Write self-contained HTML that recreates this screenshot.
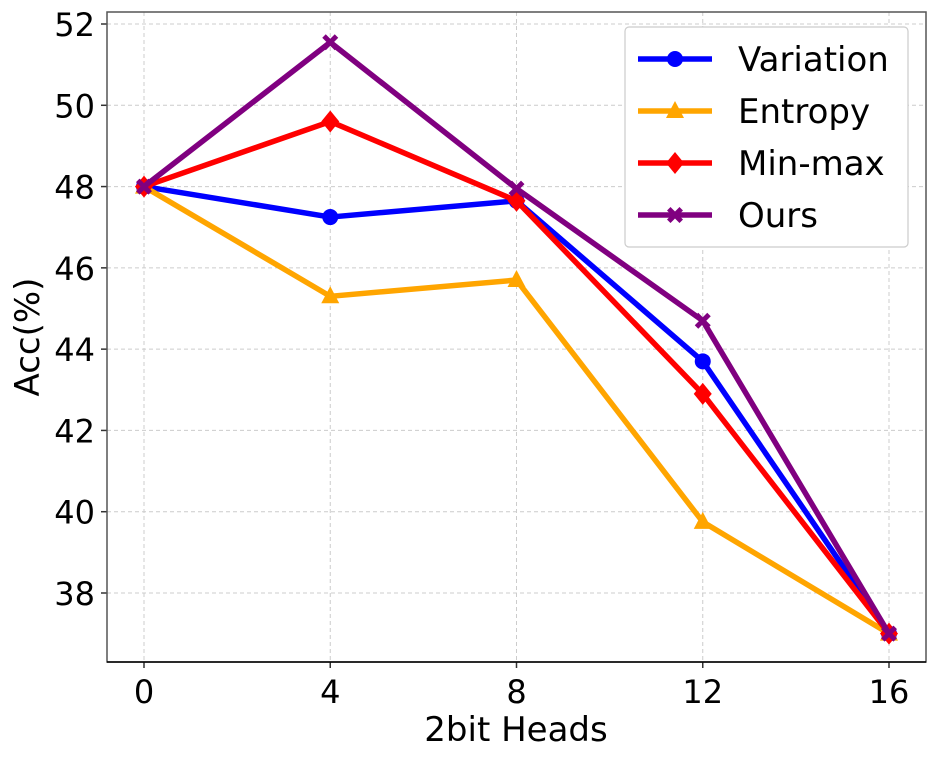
<!DOCTYPE html>
<html><head><meta charset="utf-8"><style>
body{margin:0;background:#fff}
svg{display:block;font-family:"DejaVu Sans","Liberation Sans",sans-serif}
</style></head><body>
<svg id="chart" width="935" height="758">
<g id="grid"></g>
<g id="axes"></g>
<g id="series"></g>
<g id="legend"></g>
</svg>
<script>
const categories=[0,4,8,12,16];
const yTicks=[38,40,42,44,46,48,50,52];
const variation=[48,47.25,47.65,43.7,37];
const entropy=[48,45.3,45.7,39.75,37];
const minmax=[48,49.6,47.65,42.9,37];
const ours=[48,51.55,47.95,44.7,37];
const seriesNames=["Variation","Entropy","Min-max","Ours"];

const NS="http://www.w3.org/2000/svg";
const L=107,R=926,T=12,B=662;
const xs=v=>144+(v-0)*(889-144)/16;
const ys=v=>24+(52-v)*(593-24)/14;
function mk(tag,attrs,parent,text){const e=document.createElementNS(NS,tag);for(const k in attrs)e.setAttribute(k,attrs[k]);if(text!==undefined)e.textContent=text;parent.appendChild(e);return e;}
const grid=document.getElementById('grid'),axes=document.getElementById('axes'),ser=document.getElementById('series'),leg=document.getElementById('legend');
categories.forEach(c=>{
 const l=mk('line',{x1:xs(c),x2:xs(c),y1:T,y2:B,stroke:'#ccc','stroke-dasharray':'4,3','stroke-width':1},grid);
 
 
 mk('line',{x1:xs(c),x2:xs(c),y1:B,y2:B+6,stroke:'#333','stroke-width':1.5},axes);
 const t=mk('text',{x:xs(c),y:B+41,'text-anchor':'middle','font-size':32,fill:'#000'},axes,String(c));
 
 
});
yTicks.forEach(v=>{
 const l=mk('line',{x1:L,x2:R,y1:ys(v),y2:ys(v),stroke:'#ccc','stroke-dasharray':'4,3','stroke-width':1},grid);
 
 
 mk('line',{x1:L-6,x2:L,y1:ys(v),y2:ys(v),stroke:'#333','stroke-width':1.5},axes);
 const t=mk('text',{x:L-12,y:ys(v)+12,'text-anchor':'end','font-size':32,fill:'#000'},axes,String(v));
 
 
});
const frame=mk('rect',{x:L,y:T,width:R-L,height:B-T,fill:'none',stroke:'#555','stroke-width':1.5},axes);


mk('line',{x1:L,x2:R,y1:B,y2:B,stroke:'#000','stroke-width':1.5},axes);
const xl=mk('text',{x:516,y:741,'text-anchor':'middle','font-size':34},axes,'2bit Heads');


const yl=mk('text',{x:0,y:0,'text-anchor':'middle','font-size':34,transform:'translate(39,337) rotate(-90)'},axes,'Acc(%)');



function marker(type,x,y,color,parent){
 let e;
 if(type==='circle')e=mk('circle',{cx:x,cy:y,r:8,fill:color},parent);
 else if(type==='tri')e=mk('polygon',{points:`${x},${y-10} ${x+9},${y+7} ${x-9},${y+7}`,fill:color},parent);
 else if(type==='diamond')e=mk('polygon',{points:`${x},${y-11} ${x+9},${y} ${x},${y+11} ${x-9},${y}`,fill:color},parent);
 else {const s=8,w=3.5;e=mk('path',{d:`M${x-s},${y-s+w} L${x-s+w},${y-s} L${x},${y-w} L${x+s-w},${y-s} L${x+s},${y-s+w} L${x+w},${y} L${x+s},${y+s-w} L${x+s-w},${y+s} L${x},${y+w} L${x-s+w},${y+s} L${x-s},${y+s-w} L${x-w},${y} Z`,fill:color},parent);}
 return e;
}
const defs=[[variation,'#0000ff','circle'],[entropy,'#ffa500','tri'],[minmax,'#ff0000','diamond'],[ours,'#800080','x']];
defs.forEach(([data,color,m],i)=>{
 const g=mk('g',{},ser);
 
 
 const pl=mk('polyline',{points:data.map((v,j)=>xs(categories[j])+','+ys(v)).join(' '),fill:'none',stroke:color,'stroke-width':5.5,'stroke-linejoin':'round'},g);
 
 
 data.forEach((v,j)=>{
  const p=marker(m,xs(categories[j]),ys(v),color,g);
  
  
 });
});
const box=mk('rect',{x:625,y:27,width:283,height:220,rx:4,fill:'#fff',stroke:'#ccc','stroke-width':1.2},leg);


defs.forEach(([data,color,m],i)=>{
 const y=59+i*52;
 const g=mk('g',{},leg);
 
 
 mk('line',{x1:638,x2:712,y1:y,y2:y,stroke:color,'stroke-width':5.5},g);
 marker(m,675,y,color,g);
 mk('text',{x:738,y:y+12,'font-size':34},g,seriesNames[i]);
});
</script>
</body></html>
